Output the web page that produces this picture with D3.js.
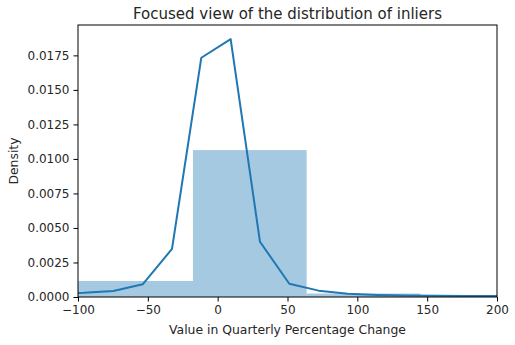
<!DOCTYPE html>
<html><head><meta charset="utf-8">
<script src="https://cdn.jsdelivr.net/npm/d3@7"></script>
<style>body{margin:0;background:#fff}svg{display:block;font-family:"DejaVu Sans",sans-serif}</style>
</head><body><svg id="c" width="515" height="345"></svg>
<script>
const binEdges = [-180.5, -99.1, -17.7, 63.7, 145.1, 226.5];
const binDensity = [0.00116, 0.00116, 0.01064, 0.00025, 0.00010];
const kdeX = [-116.7, -95.7, -74.7, -53.7, -32.7, -11.7, 9.3, 30.3, 51.3, 72.3, 93.3, 114.3, 135.3, 156.3, 177.3, 198.3, 219.3];
const kdeY = [0.00022, 0.00030, 0.00043, 0.00092, 0.00348, 0.01733, 0.01868, 0.00400, 0.00096, 0.00046, 0.00023, 0.00015, 0.00011, 0.00009, 0.00008, 0.00007, 0.00007];
const xTicks = [-100, -50, 0, 50, 100, 150, 200];
const yTicks = [0, 0.0025, 0.005, 0.0075, 0.01, 0.0125, 0.015, 0.0175];

const svg = d3.select("#c");
const m = {l:78, r:497, t:25, b:297};
const x = d3.scaleLinear().domain([-100, 200]).range([m.l, m.r]);
const y = d3.scaleLinear().domain([0, 0.0197]).range([m.b, m.t]);
const blue = "#1f77b4";

svg.append("clipPath").attr("id","clip").append("rect")
  .attr("x",m.l).attr("y",m.t).attr("width",m.r-m.l).attr("height",m.b-m.t);
const g = svg.append("g").attr("clip-path","url(#clip)");

const bins = binDensity.map((d,i)=>({x0:binEdges[i], x1:binEdges[i+1], d}));
g.selectAll("rect.bar").data(bins).join("rect").attr("class","bar")
  .attr("x",d=>x(d.x0)).attr("width",d=>x(d.x1)-x(d.x0))
  .attr("y",d=>y(d.d)).attr("height",d=>y(0)-y(d.d))
  .attr("fill",blue).attr("fill-opacity",0.4);

const pts = kdeX.map((v,i)=>[v,kdeY[i]]);
g.append("path").datum(pts)
  .attr("d", d3.line().x(d=>x(d[0])).y(d=>y(d[1])))
  .attr("fill","none").attr("stroke",blue).attr("stroke-width",2).attr("stroke-linejoin","round");

const fmtX = d => (d<0 ? "\u2212"+Math.abs(d) : ""+d);
const xa = svg.append("g").attr("transform",`translate(0,${m.b})`)
  .call(d3.axisBottom(x).tickValues(xTicks).tickFormat(fmtX).tickSizeInner(4.5).tickSizeOuter(0).tickPadding(4));
const ya = svg.append("g").attr("transform",`translate(${m.l},0)`)
  .call(d3.axisLeft(y).tickValues(yTicks).tickFormat(d3.format(".4f")).tickSizeInner(4.5).tickSizeOuter(0).tickPadding(4));
[xa,ya].forEach(a=>{
  a.select(".domain").remove();
  a.selectAll("text").attr("font-size",12).attr("fill","#262626").attr("font-family","DejaVu Sans");
  a.selectAll("line").attr("stroke","#000").attr("stroke-width",1);
});

svg.append("rect").attr("x",m.l).attr("y",m.t).attr("width",m.r-m.l).attr("height",m.b-m.t)
  .attr("fill","none").attr("stroke","#000").attr("stroke-width",1);

svg.append("text").attr("x",(m.l+m.r)/2).attr("y",19).attr("text-anchor","middle")
  .attr("font-size",15).attr("fill","#262626").text("Focused view of the distribution of inliers");
svg.append("text").attr("x",(m.l+m.r)/2).attr("y",334).attr("text-anchor","middle")
  .attr("font-size",12.4).attr("fill","#262626").text("Value in Quarterly Percentage Change");
svg.append("text").attr("transform",`translate(18,${(m.t+m.b)/2}) rotate(-90)`).attr("text-anchor","middle")
  .attr("font-size",12.4).attr("fill","#262626").text("Density");
</script></body></html>
